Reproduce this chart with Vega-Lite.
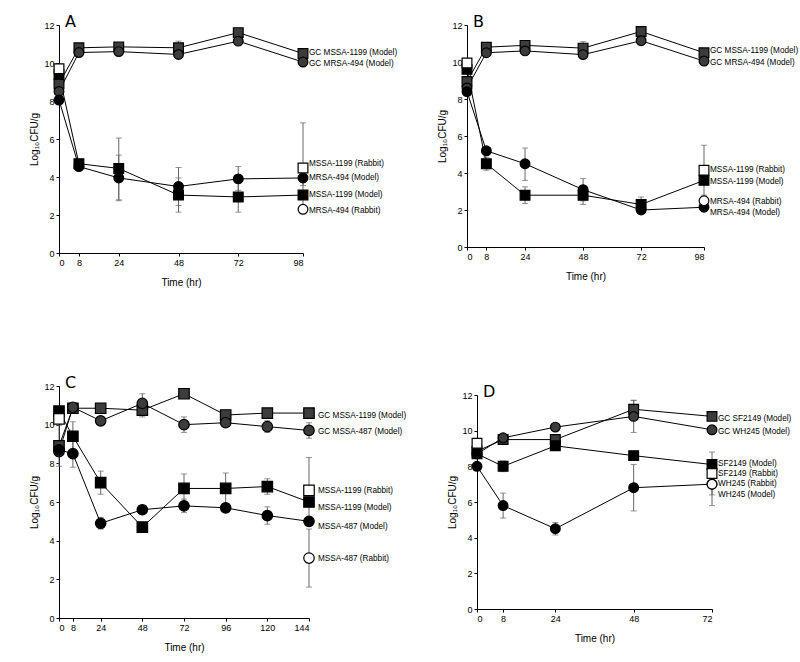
{
  "$schema": "https://vega.github.io/schema/vega-lite/v6.json",
  "padding": {"left": 29, "top": 14, "right": 2, "bottom": 2},
  "background": "white",
  "bounds": "flush",
  "spacing": 361,
  "datasets": {
    "pts": [
      {"panel":"A","series":"GC MSSA-1199 (Model)","kind":"GC","marker":"square","t":0,"v":8.9},
      {"panel":"A","series":"GC MSSA-1199 (Model)","kind":"GC","marker":"square","t":8,"v":10.8},
      {"panel":"A","series":"GC MSSA-1199 (Model)","kind":"GC","marker":"square","t":24,"v":10.85},
      {"panel":"A","series":"GC MSSA-1199 (Model)","kind":"GC","marker":"square","t":48,"v":10.8,"lo":10.45,"hi":11.15},
      {"panel":"A","series":"GC MSSA-1199 (Model)","kind":"GC","marker":"square","t":72,"v":11.6},
      {"panel":"A","series":"GC MSSA-1199 (Model)","kind":"GC","marker":"square","t":98,"v":10.5},
      {"panel":"A","series":"GC MRSA-494 (Model)","kind":"GC","marker":"circle","t":0,"v":8.5},
      {"panel":"A","series":"GC MRSA-494 (Model)","kind":"GC","marker":"circle","t":8,"v":10.55},
      {"panel":"A","series":"GC MRSA-494 (Model)","kind":"GC","marker":"circle","t":24,"v":10.6},
      {"panel":"A","series":"GC MRSA-494 (Model)","kind":"GC","marker":"circle","t":48,"v":10.45},
      {"panel":"A","series":"GC MRSA-494 (Model)","kind":"GC","marker":"circle","t":72,"v":11.15},
      {"panel":"A","series":"GC MRSA-494 (Model)","kind":"GC","marker":"circle","t":98,"v":10.05},
      {"panel":"A","series":"MSSA-1199 (Model)","kind":"Model","marker":"square","t":0,"v":9.4},
      {"panel":"A","series":"MSSA-1199 (Model)","kind":"Model","marker":"square","t":8,"v":4.7},
      {"panel":"A","series":"MSSA-1199 (Model)","kind":"Model","marker":"square","t":24,"v":4.45,"lo":2.8,"hi":6.05},
      {"panel":"A","series":"MSSA-1199 (Model)","kind":"Model","marker":"square","t":48,"v":3.05,"lo":2.15,"hi":3.95},
      {"panel":"A","series":"MSSA-1199 (Model)","kind":"Model","marker":"square","t":72,"v":2.95,"lo":2.15,"hi":3.75},
      {"panel":"A","series":"MSSA-1199 (Model)","kind":"Model","marker":"square","t":98,"v":3.05},
      {"panel":"A","series":"MRSA-494 (Model)","kind":"Model","marker":"circle","t":0,"v":8.05},
      {"panel":"A","series":"MRSA-494 (Model)","kind":"Model","marker":"circle","t":8,"v":4.55},
      {"panel":"A","series":"MRSA-494 (Model)","kind":"Model","marker":"circle","t":24,"v":3.95,"lo":2.75,"hi":5.15},
      {"panel":"A","series":"MRSA-494 (Model)","kind":"Model","marker":"circle","t":48,"v":3.5,"lo":2.5,"hi":4.5},
      {"panel":"A","series":"MRSA-494 (Model)","kind":"Model","marker":"circle","t":72,"v":3.9,"lo":3.3,"hi":4.55},
      {"panel":"A","series":"MRSA-494 (Model)","kind":"Model","marker":"circle","t":98,"v":3.95,"lo":3.55,"hi":4.35},
      {"panel":"A","series":"MSSA-1199 (Rabbit)","kind":"Rabbit","marker":"square","t":0,"v":9.7},
      {"panel":"A","series":"MSSA-1199 (Rabbit)","kind":"Rabbit","marker":"square","t":98,"v":4.47,"lo":2.1,"hi":6.85},
      {"panel":"A","series":"MRSA-494 (Rabbit)","kind":"Rabbit","marker":"circle","t":98,"v":2.3},

      {"panel":"B","series":"GC MSSA-1199 (Model)","kind":"GC","marker":"square","t":0,"v":8.95},
      {"panel":"B","series":"GC MSSA-1199 (Model)","kind":"GC","marker":"square","t":8,"v":10.8},
      {"panel":"B","series":"GC MSSA-1199 (Model)","kind":"GC","marker":"square","t":24,"v":10.9},
      {"panel":"B","series":"GC MSSA-1199 (Model)","kind":"GC","marker":"square","t":48,"v":10.75,"lo":10.4,"hi":11.1},
      {"panel":"B","series":"GC MSSA-1199 (Model)","kind":"GC","marker":"square","t":72,"v":11.65},
      {"panel":"B","series":"GC MSSA-1199 (Model)","kind":"GC","marker":"square","t":98,"v":10.5},
      {"panel":"B","series":"GC MRSA-494 (Model)","kind":"GC","marker":"circle","t":0,"v":8.6},
      {"panel":"B","series":"GC MRSA-494 (Model)","kind":"GC","marker":"circle","t":8,"v":10.5},
      {"panel":"B","series":"GC MRSA-494 (Model)","kind":"GC","marker":"circle","t":24,"v":10.6},
      {"panel":"B","series":"GC MRSA-494 (Model)","kind":"GC","marker":"circle","t":48,"v":10.4},
      {"panel":"B","series":"GC MRSA-494 (Model)","kind":"GC","marker":"circle","t":72,"v":11.15},
      {"panel":"B","series":"GC MRSA-494 (Model)","kind":"GC","marker":"circle","t":98,"v":10.05},
      {"panel":"B","series":"MSSA-1199 (Model)","kind":"Model","marker":"square","t":0,"v":9.6},
      {"panel":"B","series":"MSSA-1199 (Model)","kind":"Model","marker":"square","t":8,"v":4.5,"lo":4.15,"hi":4.85},
      {"panel":"B","series":"MSSA-1199 (Model)","kind":"Model","marker":"square","t":24,"v":2.8,"lo":2.35,"hi":3.25},
      {"panel":"B","series":"MSSA-1199 (Model)","kind":"Model","marker":"square","t":48,"v":2.8,"lo":2.3,"hi":3.3},
      {"panel":"B","series":"MSSA-1199 (Model)","kind":"Model","marker":"square","t":72,"v":2.3,"lo":1.9,"hi":2.7},
      {"panel":"B","series":"MSSA-1199 (Model)","kind":"Model","marker":"square","t":98,"v":3.6},
      {"panel":"B","series":"MRSA-494 (Model)","kind":"Model","marker":"circle","t":0,"v":8.4},
      {"panel":"B","series":"MRSA-494 (Model)","kind":"Model","marker":"circle","t":8,"v":5.2},
      {"panel":"B","series":"MRSA-494 (Model)","kind":"Model","marker":"circle","t":24,"v":4.5,"lo":3.6,"hi":5.35},
      {"panel":"B","series":"MRSA-494 (Model)","kind":"Model","marker":"circle","t":48,"v":3.1,"lo":2.5,"hi":3.7},
      {"panel":"B","series":"MRSA-494 (Model)","kind":"Model","marker":"circle","t":72,"v":2.0},
      {"panel":"B","series":"MRSA-494 (Model)","kind":"Model","marker":"circle","t":98,"v":2.15},
      {"panel":"B","series":"MSSA-1199 (Rabbit)","kind":"Rabbit","marker":"square","t":0,"v":9.95},
      {"panel":"B","series":"MSSA-1199 (Rabbit)","kind":"Rabbit","marker":"square","t":98,"v":4.15,"lo":2.8,"hi":5.5},
      {"panel":"B","series":"MRSA-494 (Rabbit)","kind":"Rabbit","marker":"circle","t":98,"v":2.5},

      {"panel":"C","series":"GC MSSA-1199 (Model)","kind":"GC","marker":"square","t":0,"v":8.9,"lo":7.85,"hi":9.95},
      {"panel":"C","series":"GC MSSA-1199 (Model)","kind":"GC","marker":"square","t":8,"v":10.85},
      {"panel":"C","series":"GC MSSA-1199 (Model)","kind":"GC","marker":"square","t":24,"v":10.85},
      {"panel":"C","series":"GC MSSA-1199 (Model)","kind":"GC","marker":"square","t":48,"v":10.75,"lo":10.4,"hi":11.1},
      {"panel":"C","series":"GC MSSA-1199 (Model)","kind":"GC","marker":"square","t":72,"v":11.6},
      {"panel":"C","series":"GC MSSA-1199 (Model)","kind":"GC","marker":"square","t":96,"v":10.5},
      {"panel":"C","series":"GC MSSA-1199 (Model)","kind":"GC","marker":"square","t":120,"v":10.6},
      {"panel":"C","series":"GC MSSA-1199 (Model)","kind":"GC","marker":"square","t":144,"v":10.6},
      {"panel":"C","series":"GC MSSA-487 (Model)","kind":"GC","marker":"circle","t":0,"v":8.6},
      {"panel":"C","series":"GC MSSA-487 (Model)","kind":"GC","marker":"circle","t":8,"v":10.9},
      {"panel":"C","series":"GC MSSA-487 (Model)","kind":"GC","marker":"circle","t":24,"v":10.2},
      {"panel":"C","series":"GC MSSA-487 (Model)","kind":"GC","marker":"circle","t":48,"v":11.1,"lo":10.6,"hi":11.6},
      {"panel":"C","series":"GC MSSA-487 (Model)","kind":"GC","marker":"circle","t":72,"v":10.0,"lo":9.6,"hi":10.4},
      {"panel":"C","series":"GC MSSA-487 (Model)","kind":"GC","marker":"circle","t":96,"v":10.1},
      {"panel":"C","series":"GC MSSA-487 (Model)","kind":"GC","marker":"circle","t":120,"v":9.9,"lo":9.6,"hi":10.2},
      {"panel":"C","series":"GC MSSA-487 (Model)","kind":"GC","marker":"circle","t":144,"v":9.7,"lo":9.3,"hi":10.1},
      {"panel":"C","series":"MSSA-1199 (Model)","kind":"Model","marker":"square","t":0,"v":10.7},
      {"panel":"C","series":"MSSA-1199 (Model)","kind":"Model","marker":"square","t":8,"v":9.4,"lo":8.65,"hi":10.15},
      {"panel":"C","series":"MSSA-1199 (Model)","kind":"Model","marker":"square","t":24,"v":7.0,"lo":6.4,"hi":7.6},
      {"panel":"C","series":"MSSA-1199 (Model)","kind":"Model","marker":"square","t":48,"v":4.7,"lo":4.45,"hi":4.95},
      {"panel":"C","series":"MSSA-1199 (Model)","kind":"Model","marker":"square","t":72,"v":6.7,"lo":5.95,"hi":7.45},
      {"panel":"C","series":"MSSA-1199 (Model)","kind":"Model","marker":"square","t":96,"v":6.7,"lo":5.9,"hi":7.5},
      {"panel":"C","series":"MSSA-1199 (Model)","kind":"Model","marker":"square","t":120,"v":6.8,"lo":6.4,"hi":7.2},
      {"panel":"C","series":"MSSA-1199 (Model)","kind":"Model","marker":"square","t":144,"v":6.0},
      {"panel":"C","series":"MSSA-487 (Model)","kind":"Model","marker":"circle","t":0,"v":8.7},
      {"panel":"C","series":"MSSA-487 (Model)","kind":"Model","marker":"circle","t":8,"v":8.5,"lo":7.8,"hi":9.2},
      {"panel":"C","series":"MSSA-487 (Model)","kind":"Model","marker":"circle","t":24,"v":4.9,"lo":4.6,"hi":5.2},
      {"panel":"C","series":"MSSA-487 (Model)","kind":"Model","marker":"circle","t":48,"v":5.6},
      {"panel":"C","series":"MSSA-487 (Model)","kind":"Model","marker":"circle","t":72,"v":5.8,"lo":5.45,"hi":6.15},
      {"panel":"C","series":"MSSA-487 (Model)","kind":"Model","marker":"circle","t":96,"v":5.7},
      {"panel":"C","series":"MSSA-487 (Model)","kind":"Model","marker":"circle","t":120,"v":5.3,"lo":4.85,"hi":5.75},
      {"panel":"C","series":"MSSA-487 (Model)","kind":"Model","marker":"circle","t":144,"v":5.0},
      {"panel":"C","series":"MSSA-1199 (Rabbit)","kind":"Rabbit","marker":"square","t":0,"v":10.3},
      {"panel":"C","series":"MSSA-1199 (Rabbit)","kind":"Rabbit","marker":"square","t":144,"v":6.6,"lo":4.9,"hi":8.3},
      {"panel":"C","series":"MSSA-487 (Rabbit)","kind":"Rabbit","marker":"circle","t":144,"v":3.1,"lo":1.6,"hi":4.6},

      {"panel":"D","series":"GC SF2149 (Model)","kind":"GC","marker":"square","t":0,"v":8.85},
      {"panel":"D","series":"GC SF2149 (Model)","kind":"GC","marker":"square","t":8,"v":9.5},
      {"panel":"D","series":"GC SF2149 (Model)","kind":"GC","marker":"square","t":24,"v":9.5},
      {"panel":"D","series":"GC SF2149 (Model)","kind":"GC","marker":"square","t":48,"v":11.2,"lo":10.7,"hi":11.7},
      {"panel":"D","series":"GC SF2149 (Model)","kind":"GC","marker":"square","t":72,"v":10.8},
      {"panel":"D","series":"GC WH245 (Model)","kind":"GC","marker":"circle","t":0,"v":8.7},
      {"panel":"D","series":"GC WH245 (Model)","kind":"GC","marker":"circle","t":8,"v":9.6},
      {"panel":"D","series":"GC WH245 (Model)","kind":"GC","marker":"circle","t":24,"v":10.2},
      {"panel":"D","series":"GC WH245 (Model)","kind":"GC","marker":"circle","t":48,"v":10.8,"lo":9.9,"hi":11.7},
      {"panel":"D","series":"GC WH245 (Model)","kind":"GC","marker":"circle","t":72,"v":10.05},
      {"panel":"D","series":"SF2149 (Model)","kind":"Model","marker":"square","t":0,"v":8.7},
      {"panel":"D","series":"SF2149 (Model)","kind":"Model","marker":"square","t":8,"v":8.0,"lo":7.7,"hi":8.3},
      {"panel":"D","series":"SF2149 (Model)","kind":"Model","marker":"square","t":24,"v":9.15,"lo":8.9,"hi":9.4},
      {"panel":"D","series":"SF2149 (Model)","kind":"Model","marker":"square","t":48,"v":8.6},
      {"panel":"D","series":"SF2149 (Model)","kind":"Model","marker":"square","t":72,"v":8.1},
      {"panel":"D","series":"WH245 (Model)","kind":"Model","marker":"circle","t":0,"v":8.0},
      {"panel":"D","series":"WH245 (Model)","kind":"Model","marker":"circle","t":8,"v":5.8,"lo":5.1,"hi":6.5},
      {"panel":"D","series":"WH245 (Model)","kind":"Model","marker":"circle","t":24,"v":4.5,"lo":4.15,"hi":4.85},
      {"panel":"D","series":"WH245 (Model)","kind":"Model","marker":"circle","t":48,"v":6.8,"lo":5.5,"hi":8.1},
      {"panel":"D","series":"WH245 (Model)","kind":"Model","marker":"circle","t":72,"v":7.0},
      {"panel":"D","series":"SF2149 (Rabbit)","kind":"Rabbit","marker":"square","t":0,"v":9.3},
      {"panel":"D","series":"SF2149 (Rabbit)","kind":"Rabbit","marker":"square","t":72,"v":7.6,"lo":6.4,"hi":8.8},
      {"panel":"D","series":"WH245 (Rabbit)","kind":"Rabbit","marker":"circle","t":72,"v":7.0,"lo":5.8,"hi":8.2}
    ],
    "labels": [
      {"panel":"A","t":98,"v":10.55,"label":"GC MSSA-1199 (Model)"},
      {"panel":"A","t":98,"v":9.95,"label":"GC MRSA-494 (Model)"},
      {"panel":"A","t":98,"v":4.7,"label":"MSSA-1199 (Rabbit)"},
      {"panel":"A","t":98,"v":3.97,"label":"MRSA-494 (Model)"},
      {"panel":"A","t":98,"v":3.07,"label":"MSSA-1199 (Model)"},
      {"panel":"A","t":98,"v":2.2,"label":"MRSA-494 (Rabbit)"},
      {"panel":"B","t":98,"v":10.6,"label":"GC MSSA-1199 (Model)"},
      {"panel":"B","t":98,"v":9.93,"label":"GC MRSA-494 (Model)"},
      {"panel":"B","t":98,"v":4.18,"label":"MSSA-1199 (Rabbit)"},
      {"panel":"B","t":98,"v":3.5,"label":"MSSA-1199 (Model)"},
      {"panel":"B","t":98,"v":2.43,"label":"MRSA-494 (Rabbit)"},
      {"panel":"B","t":98,"v":1.85,"label":"MRSA-494 (Model)"},
      {"panel":"C","t":144,"v":10.46,"label":"GC MSSA-1199 (Model)"},
      {"panel":"C","t":144,"v":9.64,"label":"GC MSSA-487 (Model)"},
      {"panel":"C","t":144,"v":6.55,"label":"MSSA-1199  (Rabbit)"},
      {"panel":"C","t":144,"v":5.7,"label":"MSSA-1199 (Model)"},
      {"panel":"C","t":144,"v":4.72,"label":"MSSA-487 (Model)"},
      {"panel":"C","t":144,"v":3.06,"label":"MSSA-487 (Rabbit)"},
      {"panel":"D","t":72,"v":10.65,"label":"GC SF2149 (Model)"},
      {"panel":"D","t":72,"v":9.94,"label":"GC WH245 (Model)"},
      {"panel":"D","t":72,"v":8.13,"label":"SF2149 (Model)"},
      {"panel":"D","t":72,"v":7.57,"label":"SF2149 (Rabbit)"},
      {"panel":"D","t":72,"v":7.0,"label":"WH245 (Rabbit)"},
      {"panel":"D","t":72,"v":6.41,"label":"WH245 (Model)"}
    ]
  },
  "vconcat": [
    {
      "bounds": "flush",
      "spacing": 164,
      "hconcat": [
        {
          "width": 244, "height": 228,
          "title": {"text": "A", "dx": 6, "dy": 10},
          "layer": [
            {"data": {"name": "pts"}, "transform": [{"filter": "datum.panel == 'A' && isValid(datum.lo)"}],
             "mark": {"type": "errorbar", "ticks": {"size": 6, "color": "#666"}, "rule": {"color": "#666", "strokeWidth": 1}},
             "encoding": {"x": {"field": "t", "type": "quantitative", "title": "Time (hr)", "scale": {"domain": [0, 98], "nice": false}, "axis": {"values": [0, 8, 24, 48, 72, 98], "tickCount": 30, "format": "d", "labelOverlap": false}},
                          "y": {"field": "lo", "type": "quantitative", "title": "Log₁₀CFU/g", "scale": {"domain": [0, 12], "nice": false}, "axis": {"values": [0, 2, 4, 6, 8, 10, 12], "tickCount": 30, "format": "d", "labelOverlap": false}},
                          "y2": {"field": "hi"}}},
            {"data": {"name": "pts"}, "transform": [{"filter": "datum.panel == 'A' && datum.kind != 'Rabbit'"}],
             "mark": {"type": "line", "color": "black", "strokeWidth": 1},
             "encoding": {"x": {"field": "t", "type": "quantitative", "title": "Time (hr)", "scale": {"domain": [0, 98], "nice": false}, "axis": {"values": [0, 8, 24, 48, 72, 98], "tickCount": 30, "format": "d", "labelOverlap": false}},
                          "y": {"field": "v", "type": "quantitative", "title": "Log₁₀CFU/g", "scale": {"domain": [0, 12], "nice": false}, "axis": {"values": [0, 2, 4, 6, 8, 10, 12], "tickCount": 30, "format": "d", "labelOverlap": false}},
                          "detail": {"field": "series"}}},
            {"data": {"name": "pts"}, "transform": [{"filter": "datum.panel == 'A'"}],
             "mark": {"type": "point", "filled": true, "size": 95, "stroke": "black", "strokeWidth": 1.2, "opacity": 1},
             "encoding": {"x": {"field": "t", "type": "quantitative", "title": "Time (hr)", "scale": {"domain": [0, 98], "nice": false}, "axis": {"values": [0, 8, 24, 48, 72, 98], "tickCount": 30, "format": "d", "labelOverlap": false}},
                          "y": {"field": "v", "type": "quantitative", "title": "Log₁₀CFU/g", "scale": {"domain": [0, 12], "nice": false}, "axis": {"values": [0, 2, 4, 6, 8, 10, 12], "tickCount": 30, "format": "d", "labelOverlap": false}},
                          "shape": {"field": "marker", "type": "nominal", "scale": {"domain": ["square", "circle"], "range": ["square", "circle"]}, "legend": null},
                          "fill": {"field": "kind", "type": "nominal", "scale": {"domain": ["GC", "Model", "Rabbit"], "range": ["#3c3c3c", "#000000", "#ffffff"]}, "legend": null}}},
            {"data": {"name": "labels"}, "transform": [{"filter": "datum.panel == 'A'"}],
             "mark": {"type": "text", "align": "left", "baseline": "middle", "dx": 6, "fontSize": 8.2, "font": "Liberation Sans", "color": "black"},
             "encoding": {"x": {"field": "t", "type": "quantitative", "title": "Time (hr)"},
                          "y": {"field": "v", "type": "quantitative", "title": "Log₁₀CFU/g"},
                          "text": {"field": "label"}}}
          ]
        },
        {
          "width": 237, "height": 222,
          "title": {"text": "B", "dx": 6, "dy": 10},
          "layer": [
            {"data": {"name": "pts"}, "transform": [{"filter": "datum.panel == 'B' && isValid(datum.lo)"}],
             "mark": {"type": "errorbar", "ticks": {"size": 6, "color": "#666"}, "rule": {"color": "#666", "strokeWidth": 1}},
             "encoding": {"x": {"field": "t", "type": "quantitative", "title": "Time (hr)", "scale": {"domain": [0, 98], "nice": false}, "axis": {"values": [0, 8, 24, 48, 72, 98], "tickCount": 30, "format": "d", "labelOverlap": false}},
                          "y": {"field": "lo", "type": "quantitative", "title": "Log₁₀CFU/g", "scale": {"domain": [0, 12], "nice": false}, "axis": {"values": [0, 2, 4, 6, 8, 10, 12], "tickCount": 30, "format": "d", "labelOverlap": false}},
                          "y2": {"field": "hi"}}},
            {"data": {"name": "pts"}, "transform": [{"filter": "datum.panel == 'B' && datum.kind != 'Rabbit'"}],
             "mark": {"type": "line", "color": "black", "strokeWidth": 1},
             "encoding": {"x": {"field": "t", "type": "quantitative", "title": "Time (hr)", "scale": {"domain": [0, 98], "nice": false}, "axis": {"values": [0, 8, 24, 48, 72, 98], "tickCount": 30, "format": "d", "labelOverlap": false}},
                          "y": {"field": "v", "type": "quantitative", "title": "Log₁₀CFU/g", "scale": {"domain": [0, 12], "nice": false}, "axis": {"values": [0, 2, 4, 6, 8, 10, 12], "tickCount": 30, "format": "d", "labelOverlap": false}},
                          "detail": {"field": "series"}}},
            {"data": {"name": "pts"}, "transform": [{"filter": "datum.panel == 'B'"}],
             "mark": {"type": "point", "filled": true, "size": 95, "stroke": "black", "strokeWidth": 1.2, "opacity": 1},
             "encoding": {"x": {"field": "t", "type": "quantitative", "title": "Time (hr)", "scale": {"domain": [0, 98], "nice": false}, "axis": {"values": [0, 8, 24, 48, 72, 98], "tickCount": 30, "format": "d", "labelOverlap": false}},
                          "y": {"field": "v", "type": "quantitative", "title": "Log₁₀CFU/g", "scale": {"domain": [0, 12], "nice": false}, "axis": {"values": [0, 2, 4, 6, 8, 10, 12], "tickCount": 30, "format": "d", "labelOverlap": false}},
                          "shape": {"field": "marker", "type": "nominal", "scale": {"domain": ["square", "circle"], "range": ["square", "circle"]}, "legend": null},
                          "fill": {"field": "kind", "type": "nominal", "scale": {"domain": ["GC", "Model", "Rabbit"], "range": ["#3c3c3c", "#000000", "#ffffff"]}, "legend": null}}},
            {"data": {"name": "labels"}, "transform": [{"filter": "datum.panel == 'B'"}],
             "mark": {"type": "text", "align": "left", "baseline": "middle", "dx": 6, "fontSize": 8.2, "font": "Liberation Sans", "color": "black"},
             "encoding": {"x": {"field": "t", "type": "quantitative", "title": "Time (hr)"},
                          "y": {"field": "v", "type": "quantitative", "title": "Log₁₀CFU/g"},
                          "text": {"field": "label"}}}
          ]
        }
      ]
    },
    {
      "bounds": "flush",
      "spacing": 168,
      "center": true,
      "hconcat": [
        {
          "width": 250, "height": 232,
          "title": {"text": "C", "dx": 6, "dy": 10},
          "layer": [
            {"data": {"name": "pts"}, "transform": [{"filter": "datum.panel == 'C' && isValid(datum.lo)"}],
             "mark": {"type": "errorbar", "ticks": {"size": 6, "color": "#666"}, "rule": {"color": "#666", "strokeWidth": 1}},
             "encoding": {"x": {"field": "t", "type": "quantitative", "title": "Time (hr)", "scale": {"domain": [0, 144], "nice": false}, "axis": {"values": [0, 8, 24, 48, 72, 96, 120, 144], "tickCount": 30, "format": "d", "labelOverlap": false}},
                          "y": {"field": "lo", "type": "quantitative", "title": "Log₁₀CFU/g", "scale": {"domain": [0, 12], "nice": false}, "axis": {"values": [0, 2, 4, 6, 8, 10, 12], "tickCount": 30, "format": "d", "labelOverlap": false}},
                          "y2": {"field": "hi"}}},
            {"data": {"name": "pts"}, "transform": [{"filter": "datum.panel == 'C' && datum.kind != 'Rabbit'"}],
             "mark": {"type": "line", "color": "black", "strokeWidth": 1},
             "encoding": {"x": {"field": "t", "type": "quantitative", "title": "Time (hr)", "scale": {"domain": [0, 144], "nice": false}, "axis": {"values": [0, 8, 24, 48, 72, 96, 120, 144], "tickCount": 30, "format": "d", "labelOverlap": false}},
                          "y": {"field": "v", "type": "quantitative", "title": "Log₁₀CFU/g", "scale": {"domain": [0, 12], "nice": false}, "axis": {"values": [0, 2, 4, 6, 8, 10, 12], "tickCount": 30, "format": "d", "labelOverlap": false}},
                          "detail": {"field": "series"}}},
            {"data": {"name": "pts"}, "transform": [{"filter": "datum.panel == 'C'"}],
             "mark": {"type": "point", "filled": true, "size": 110, "stroke": "black", "strokeWidth": 1.2, "opacity": 1},
             "encoding": {"x": {"field": "t", "type": "quantitative", "title": "Time (hr)", "scale": {"domain": [0, 144], "nice": false}, "axis": {"values": [0, 8, 24, 48, 72, 96, 120, 144], "tickCount": 30, "format": "d", "labelOverlap": false}},
                          "y": {"field": "v", "type": "quantitative", "title": "Log₁₀CFU/g", "scale": {"domain": [0, 12], "nice": false}, "axis": {"values": [0, 2, 4, 6, 8, 10, 12], "tickCount": 30, "format": "d", "labelOverlap": false}},
                          "shape": {"field": "marker", "type": "nominal", "scale": {"domain": ["square", "circle"], "range": ["square", "circle"]}, "legend": null},
                          "fill": {"field": "kind", "type": "nominal", "scale": {"domain": ["GC", "Model", "Rabbit"], "range": ["#3c3c3c", "#000000", "#ffffff"]}, "legend": null}}},
            {"data": {"name": "labels"}, "transform": [{"filter": "datum.panel == 'C'"}],
             "mark": {"type": "text", "align": "left", "baseline": "middle", "dx": 9, "fontSize": 8.2, "font": "Liberation Sans", "color": "black"},
             "encoding": {"x": {"field": "t", "type": "quantitative", "title": "Time (hr)"},
                          "y": {"field": "v", "type": "quantitative", "title": "Log₁₀CFU/g"},
                          "text": {"field": "label"}}}
          ]
        },
        {
          "width": 235, "height": 214,
          "title": {"text": "D", "dx": 6, "dy": 10},
          "layer": [
            {"data": {"name": "pts"}, "transform": [{"filter": "datum.panel == 'D' && isValid(datum.lo)"}],
             "mark": {"type": "errorbar", "ticks": {"size": 6, "color": "#666"}, "rule": {"color": "#666", "strokeWidth": 1}},
             "encoding": {"x": {"field": "t", "type": "quantitative", "title": "Time (hr)", "scale": {"domain": [0, 72], "nice": false}, "axis": {"values": [0, 8, 24, 48, 72], "tickCount": 30, "format": "d", "labelOverlap": false}},
                          "y": {"field": "lo", "type": "quantitative", "title": "Log₁₀CFU/g", "scale": {"domain": [0, 12], "nice": false}, "axis": {"values": [0, 2, 4, 6, 8, 10, 12], "tickCount": 30, "format": "d", "labelOverlap": false}},
                          "y2": {"field": "hi"}}},
            {"data": {"name": "pts"}, "transform": [{"filter": "datum.panel == 'D' && datum.kind != 'Rabbit'"}],
             "mark": {"type": "line", "color": "black", "strokeWidth": 1},
             "encoding": {"x": {"field": "t", "type": "quantitative", "title": "Time (hr)", "scale": {"domain": [0, 72], "nice": false}, "axis": {"values": [0, 8, 24, 48, 72], "tickCount": 30, "format": "d", "labelOverlap": false}},
                          "y": {"field": "v", "type": "quantitative", "title": "Log₁₀CFU/g", "scale": {"domain": [0, 12], "nice": false}, "axis": {"values": [0, 2, 4, 6, 8, 10, 12], "tickCount": 30, "format": "d", "labelOverlap": false}},
                          "detail": {"field": "series"}}},
            {"data": {"name": "pts"}, "transform": [{"filter": "datum.panel == 'D'"}],
             "mark": {"type": "point", "filled": true, "size": 95, "stroke": "black", "strokeWidth": 1.2, "opacity": 1},
             "encoding": {"x": {"field": "t", "type": "quantitative", "title": "Time (hr)", "scale": {"domain": [0, 72], "nice": false}, "axis": {"values": [0, 8, 24, 48, 72], "tickCount": 30, "format": "d", "labelOverlap": false}},
                          "y": {"field": "v", "type": "quantitative", "title": "Log₁₀CFU/g", "scale": {"domain": [0, 12], "nice": false}, "axis": {"values": [0, 2, 4, 6, 8, 10, 12], "tickCount": 30, "format": "d", "labelOverlap": false}},
                          "shape": {"field": "marker", "type": "nominal", "scale": {"domain": ["square", "circle"], "range": ["square", "circle"]}, "legend": null},
                          "fill": {"field": "kind", "type": "nominal", "scale": {"domain": ["GC", "Model", "Rabbit"], "range": ["#3c3c3c", "#000000", "#ffffff"]}, "legend": null}}},
            {"data": {"name": "labels"}, "transform": [{"filter": "datum.panel == 'D'"}],
             "mark": {"type": "text", "align": "left", "baseline": "middle", "dx": 6, "fontSize": 8.2, "font": "Liberation Sans", "color": "black"},
             "encoding": {"x": {"field": "t", "type": "quantitative", "title": "Time (hr)"},
                          "y": {"field": "v", "type": "quantitative", "title": "Log₁₀CFU/g"},
                          "text": {"field": "label"}}}
          ]
        }
      ]
    }
  ],
  "config": {
    "view": {"stroke": null},
    "axis": {"grid": false, "domainColor": "#000", "tickColor": "#000", "labelColor": "#000", "titleColor": "#000",
             "labelFont": "Liberation Sans", "titleFont": "Liberation Sans", "labelFontSize": 9, "titleFontSize": 10,
             "titleFontWeight": "normal", "tickSize": 3, "labelPadding": 2, "labelOverlap": false},
    "axisX": {"titlePadding": 10},
    "axisY": {"titlePadding": 4},
    "title": {"anchor": "start", "frame": "group", "fontSize": 16, "font": "DejaVu Sans", "fontWeight": "normal", "color": "#000", "offset": 1}
  }
}
